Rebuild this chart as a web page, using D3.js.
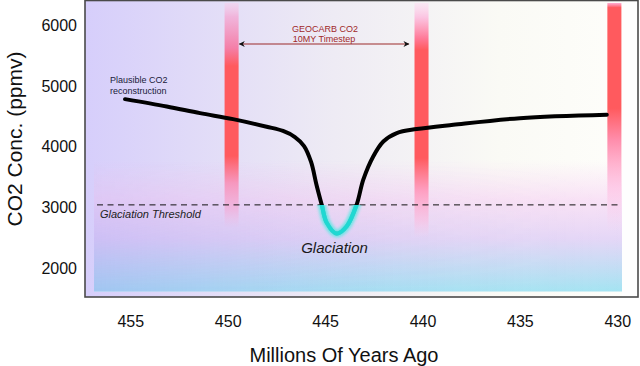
<!DOCTYPE html>
<html><head><meta charset="utf-8">
<script src="https://cdn.jsdelivr.net/npm/d3@7"></script>
<style>
html,body{margin:0;padding:0;background:#fff;}
svg{display:block;font-family:"Liberation Sans",Arial,sans-serif;}
</style></head>
<body>
<svg id="c" width="640" height="366"></svg>
<script>
// ---- data ----
const years = [455.27, 453.13, 451.42, 449.73, 448.0, 447.16, 446.55, 446.08, 445.72, 445.44, 445.17, 444.92, 444.40, 443.89, 443.38, 443.04, 442.53, 442.01, 441.32, 440.30, 438.42, 435.0, 430.54];
const co2   = [4782, 4661, 4552, 4454, 4329, 4259, 4160, 4012, 3750, 3372, 3043, 2754, 2574, 2693, 3049, 3459, 3841, 4087, 4225, 4290, 4361, 4470, 4525];
const bandYears = [449.8, 440.05, 430.15];
const xTicks = [455, 450, 445, 440, 435, 430];
const yTicks = [2000, 3000, 4000, 5000, 6000];
const threshold = 3045;
const timestepFrom = 449.4, timestepTo = 440.7;

const svg = d3.select("#c");
const x = d3.scaleLinear().domain([455, 430]).range([130.3, 617.3]);
const y = d3.scaleLinear().domain([2000, 6000]).range([268.5, 25]);

const L = 85, R = 638, T = 0.5, B = 297;
const defs = svg.append("defs");

// background gradients
const bg = defs.append("linearGradient").attr("id","bg").attr("x1","0").attr("x2","1").attr("y1","0").attr("y2","0");
bg.append("stop").attr("offset","0").attr("stop-color","#d6cefb");
bg.append("stop").attr("offset","0.45").attr("stop-color","#eeebf4");
bg.append("stop").attr("offset","0.75").attr("stop-color","#fafaf5");
bg.append("stop").attr("offset","1").attr("stop-color","#fefefb");

const lo = defs.append("linearGradient").attr("id","lo").attr("x1","0").attr("x2","0").attr("y1","0").attr("y2","1");
lo.append("stop").attr("offset","0").attr("stop-color","#f8d8f4").attr("stop-opacity",0);
lo.append("stop").attr("offset","0.3").attr("stop-color","#f6d4f4").attr("stop-opacity",0.65);
lo.append("stop").attr("offset","0.6").attr("stop-color","#e0d0f6").attr("stop-opacity",0.85);
lo.append("stop").attr("offset","1").attr("stop-color","#a4e4f2").attr("stop-opacity",1);

const loH = defs.append("linearGradient").attr("id","loH").attr("x1","0").attr("x2","1").attr("y1","0").attr("y2","0");
loH.append("stop").attr("offset","0").attr("stop-color","#9a90f0").attr("stop-opacity",0.35);
loH.append("stop").attr("offset","0.5").attr("stop-color","#b0a8f0").attr("stop-opacity",0.12);
loH.append("stop").attr("offset","1").attr("stop-color","#ffffff").attr("stop-opacity",0);

const loMask = defs.append("linearGradient").attr("id","loMaskG").attr("x1","0").attr("x2","0").attr("y1","0").attr("y2","1");
loMask.append("stop").attr("offset","0").attr("stop-color","#fff").attr("stop-opacity",0);
loMask.append("stop").attr("offset","0.4").attr("stop-color","#fff").attr("stop-opacity",0.6);
loMask.append("stop").attr("offset","1").attr("stop-color","#fff").attr("stop-opacity",1);
const mask = defs.append("mask").attr("id","loMask");
mask.append("rect").attr("x",94).attr("y",160).attr("width",528).attr("height",131.5).attr("fill","url(#loMaskG)");

svg.append("rect").attr("x",L).attr("y",T).attr("width",R-L).attr("height",B-T).attr("fill","url(#bg)");
svg.append("rect").attr("x",622).attr("y",T).attr("width",R-622).attr("height",B-T).attr("fill","#fefefe");
svg.append("rect").attr("x",94).attr("y",160).attr("width",528).attr("height",131.5).attr("fill","url(#lo)");
svg.append("rect").attr("x",94).attr("y",160).attr("width",528).attr("height",131.5).attr("fill","url(#loH)").attr("mask","url(#loMask)");

// bands
const bandStops = [
  [[0,"#f4d0ec",0.6],[0.06,"#f2b0d8",0.9],[0.2,"#f47fa8",1],[0.28,"#ff5a5e",1],[0.68,"#ff5a5e",1],[0.8,"#f890b8",0.9],[0.92,"#f4a8d4",0.6],[1,"#f4b8e0",0]],
  [[0,"#fce0f2",0.6],[0.06,"#fcc0e0",0.9],[0.15,"#ff7a98",1],[0.2,"#ff5a5e",1],[0.66,"#ff5a5e",1],[0.8,"#ff98bc",0.9],[0.92,"#fcb8dc",0.6],[1,"#fcc8e8",0]],
  [[0,"#ff98c8",0.8],[0.02,"#ff5a5e",1],[0.46,"#ff5a5e",1],[0.6,"#ff88a8",0.95],[0.8,"#ffbce0",0.7],[1,"#f8d0f0",0]]
];
const bandBottom = [228, 238, 232];
const bw = x(430) - x(430.72);
bandYears.forEach((yr,i)=>{
  const g = defs.append("linearGradient").attr("id","band"+i).attr("x1","0").attr("x2","0").attr("y1","0").attr("y2","1");
  bandStops[i].forEach(s=>g.append("stop").attr("offset",s[0]).attr("stop-color",s[1]).attr("stop-opacity",s[2]));
  svg.append("rect").attr("x",x(yr)-bw/2).attr("y",3).attr("width",bw).attr("height",bandBottom[i]-3).attr("fill","url(#band"+i+")");
});

// frame
svg.append("rect").attr("x",L).attr("y",T).attr("width",R-L).attr("height",B-T)
  .attr("fill","none").attr("stroke","#4a4a4a").attr("stroke-width",1.6);

// threshold
svg.append("line").attr("x1",97).attr("x2",620).attr("y1",y(threshold)).attr("y2",y(threshold))
  .attr("stroke","#111").attr("stroke-width",1).attr("stroke-dasharray","6,4.5");
svg.append("text").attr("x",100).attr("y",y(threshold)+13).attr("font-size",11).attr("font-style","italic")
  .attr("fill","#222").text("Glaciation Threshold");

// curve
const pts = years.map((d,i)=>[x(d), y(co2[i])]);
const line = d3.line().curve(d3.curveCatmullRom.alpha(0.5));
svg.append("path").attr("d",line(pts)).attr("fill","none").attr("stroke","#000").attr("stroke-width",4).attr("stroke-linecap","round");

defs.append("clipPath").attr("id","below").append("rect").attr("x",L).attr("y",y(threshold)).attr("width",R-L).attr("height",B-y(threshold));
const blur = defs.append("filter").attr("id","glow").attr("x","-50%").attr("y","-50%").attr("width","200%").attr("height","200%");
blur.append("feGaussianBlur").attr("stdDeviation",1.6);
const cy = svg.append("g").attr("clip-path","url(#below)");
cy.append("path").attr("d",line(pts)).attr("fill","none").attr("stroke","#5ee8e4").attr("stroke-width",8).attr("filter","url(#glow)").attr("opacity",0.9);
cy.append("path").attr("d",line(pts)).attr("fill","none").attr("stroke","#1fd8d2").attr("stroke-width",4);

// annotations
svg.append("text").attr("x",110).attr("y",83).attr("font-size",9).attr("fill","#1a1a3a").text("Plausible CO2");
svg.append("text").attr("x",110).attr("y",94).attr("font-size",9).attr("fill","#1a1a3a").text("reconstruction");
svg.append("text").attr("x",325).attr("y",31.5).attr("font-size",9).attr("fill","#a02828").attr("text-anchor","middle").text("GEOCARB CO2");
svg.append("text").attr("x",324).attr("y",41.5).attr("font-size",9).attr("fill","#a02828").attr("text-anchor","middle").text("10MY Timestep");
defs.append("marker").attr("id","ah").attr("viewBox","0 0 10 10").attr("refX",9).attr("refY",5)
  .attr("markerWidth",7).attr("markerHeight",6).attr("markerUnits","userSpaceOnUse").attr("orient","auto-start-reverse")
  .append("path").attr("d","M0,0 L10,5 L0,10 L3,5 Z").attr("fill","#111");
svg.append("line").attr("x1",x(timestepFrom)).attr("x2",x(timestepTo)).attr("y1",44).attr("y2",44)
  .attr("stroke","#9b2a2a").attr("stroke-width",1.2).attr("marker-start","url(#ah)").attr("marker-end","url(#ah)");
svg.append("text").attr("x",334.5).attr("y",253).attr("font-size",15).attr("font-style","italic")
  .attr("fill","#1a1a1a").attr("text-anchor","middle").text("Glaciation");

// axes
const xa = svg.append("g").attr("transform",`translate(0,${B})`)
  .call(d3.axisBottom(x).tickValues(xTicks).tickSize(0).tickPadding(19).tickFormat(d3.format("d")));
xa.select(".domain").remove();
xa.selectAll("text").attr("font-size",16).attr("font-family","Liberation Sans, Arial, sans-serif").attr("fill","#111");
const ya = svg.append("g").attr("transform",`translate(${L},0)`)
  .call(d3.axisLeft(y).tickValues(yTicks).tickSize(0).tickPadding(8).tickFormat(d3.format("d")));
ya.select(".domain").remove();
ya.selectAll("text").attr("font-size",16).attr("font-family","Liberation Sans, Arial, sans-serif").attr("fill","#111");

svg.append("text").attr("x",344).attr("y",362).attr("font-size",20).attr("text-anchor","middle").attr("fill","#111").text("Millions Of Years Ago");
svg.append("text").attr("transform","translate(22,139) rotate(-90)").attr("font-size",21).attr("text-anchor","middle").attr("fill","#111").text("CO2 Conc. (ppmv)");
</script>
</body></html>
